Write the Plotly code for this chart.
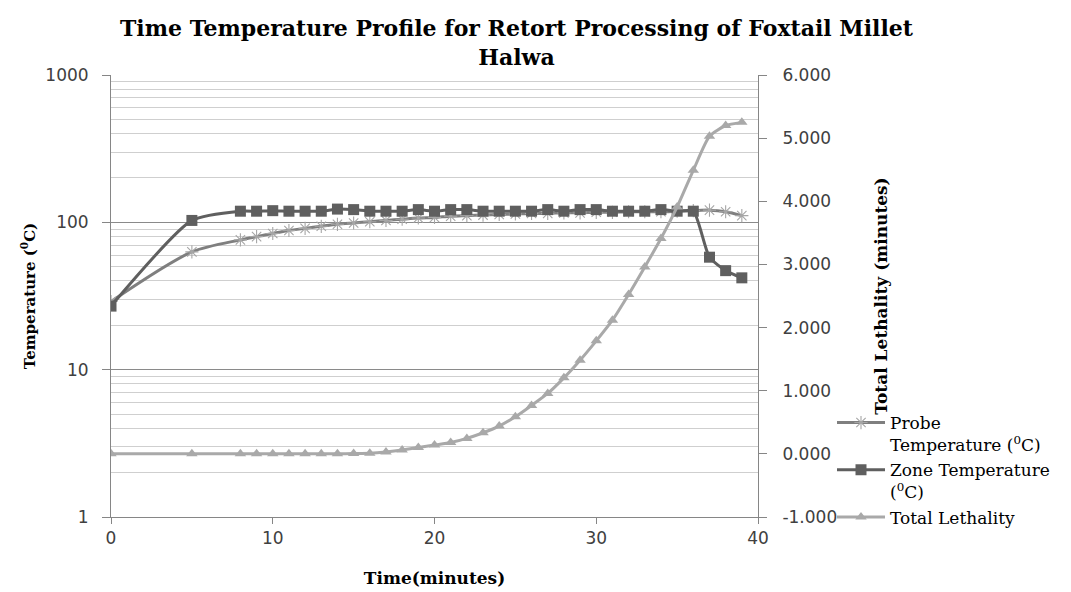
import plotly.graph_objects as go

time_min = [0, 5, 8, 9, 10, 11, 12, 13, 14, 15, 16, 17, 18, 19, 20, 21, 22, 23,
            24, 25, 26, 27, 28, 29, 30, 31, 32, 33, 34, 35, 36, 37, 38, 39]

probe_temp = [29, 63, 76, 80, 84, 88, 91, 94, 97, 99, 101, 103, 105, 107, 108, 110, 111, 112,
              113, 114, 115, 115, 116, 116, 117, 117, 118, 118, 118, 119, 120, 121, 118, 111]

zone_temp = [27, 103, 119, 119, 120, 119, 119, 119, 123, 122, 119, 119, 119, 122, 119, 122, 122, 119,
             119, 119, 119, 122, 119, 122, 122, 119, 119, 119, 122, 119, 119, 58, 47, 42]

total_lethality = [0.0, 0.0, 0.0, 0.0, 0.0, 0.0, 0.0, 0.0, 0.0, 0.005, 0.01, 0.03, 0.06, 0.10, 0.14, 0.18, 0.245, 0.334,
                   0.44, 0.587, 0.767, 0.957, 1.204, 1.484, 1.79, 2.117, 2.524, 2.96, 3.41, 3.91, 4.49, 5.03, 5.20, 5.25]

left_ticks = [1, 10, 100, 1000]
left_minor = [m * d for d in (1, 10, 100) for m in range(2, 10)]
right_ticks = [-1, 0, 1, 2, 3, 4, 5, 6]
x_ticks = [0, 10, 20, 30, 40]

title_text = "Time Temperature Profile for Retort Processing of Foxtail Millet<br>Halwa"

SERIF = "DejaVu Serif"
SANS = "DejaVu Sans"
AXIS_COLOR = "#868686"
TICK_FONT = dict(family=SANS, size=17, color="#404040")

# page body has an 8px margin, so the figure is drawn 8px smaller and offset
W, H = 1063, 584
ML, MT, MR, MB = 103, 67, 313, 75
PW = W - ML - MR
PH = H - MT - MB

fig = go.Figure()

fig.add_trace(go.Scatter(
    x=time_min, y=probe_temp, name="Probe<br>Temperature (<sup>0</sup>C)",
    mode="lines+markers", line=dict(color="#7f7f7f", width=3, shape="spline", smoothing=0.8),
    marker=dict(symbol="asterisk-open", size=11, color="#a6a6a6", line=dict(color="#a6a6a6", width=1.1)),
    yaxis="y"))

fig.add_trace(go.Scatter(
    x=time_min, y=zone_temp, name="Zone Temperature<br>(<sup>0</sup>C)",
    mode="lines+markers", line=dict(color="#5f5f5f", width=3, shape="spline", smoothing=0.6),
    marker=dict(symbol="square", size=11, color="#5f5f5f"),
    yaxis="y"))

fig.add_trace(go.Scatter(
    x=time_min, y=total_lethality, name="Total Lethality",
    mode="lines+markers", line=dict(color="#a9a9a9", width=3, shape="spline", smoothing=0.6),
    marker=dict(symbol="triangle-up", size=10, color="#a9a9a9"),
    yaxis="y2"))

fig.add_annotation(
    text="<b>" + title_text + "</b>", xref="paper", yref="paper",
    x=(517 - 111) / PW, xanchor="center", y=1 + (75 - 13) / PH, yanchor="top",
    showarrow=False, font=dict(family=SERIF, size=22, color="black"), align="center")

fig.update_layout(
    width=W, height=H,
    margin=dict(l=ML, r=MR, t=MT, b=MB, autoexpand=False),
    paper_bgcolor="white", plot_bgcolor="white",
    xaxis=dict(
        range=[0, 40], tickvals=x_ticks, ticks="outside", ticklen=6, tickcolor=AXIS_COLOR,
        showline=True, linecolor=AXIS_COLOR, linewidth=1, showgrid=False, zeroline=False,
        tickfont=TICK_FONT, ticklabelstandoff=0, automargin=False,
        title=dict(text="<b>Time(minutes)</b>", font=dict(family=SERIF, size=17, color="black"), standoff=24)),
    yaxis=dict(
        type="log", range=[0, 3], tickvals=left_ticks, ticktext=[str(v) for v in left_ticks],
        ticks="outside", ticklen=8, tickcolor=AXIS_COLOR,
        showline=True, linecolor=AXIS_COLOR, linewidth=1,
        showgrid=True, gridcolor="#8a8a8a", gridwidth=1, zeroline=False,
        minor=dict(tickmode="array", tickvals=left_minor, showgrid=True, gridcolor="#cfcfcf", gridwidth=1, ticks=""),
        tickfont=TICK_FONT, ticklabelstandoff=10, automargin=False,
        title=dict(text="<b>Temperature (<sup>0</sup>C)</b>", font=dict(family=SERIF, size=15, color="black"), standoff=6)),
    yaxis2=dict(
        overlaying="y", side="right", range=[-1, 6], tickvals=right_ticks,
        ticktext=[f"{v:.3f}" for v in right_ticks],
        ticks="outside", ticklen=8, tickcolor=AXIS_COLOR,
        showline=True, linecolor=AXIS_COLOR, linewidth=1, showgrid=False, zeroline=False,
        tickfont=TICK_FONT, ticklabelstandoff=12, automargin=False,
        title=dict(text="<b>Total Lethality (minutes)</b>", font=dict(family=SERIF, size=17, color="black"), standoff=38)),
    legend=dict(
        x=(832 - 111) / PW, xanchor="left", y=(517 - 405) / PH, yanchor="top",
        font=dict(family=SERIF, size=17, color="black"), valign="top",
        bgcolor="rgba(0,0,0,0)", borderwidth=0, itemwidth=48, tracegroupgap=0),
    showlegend=True,
)

fig.write_html("out.html")
